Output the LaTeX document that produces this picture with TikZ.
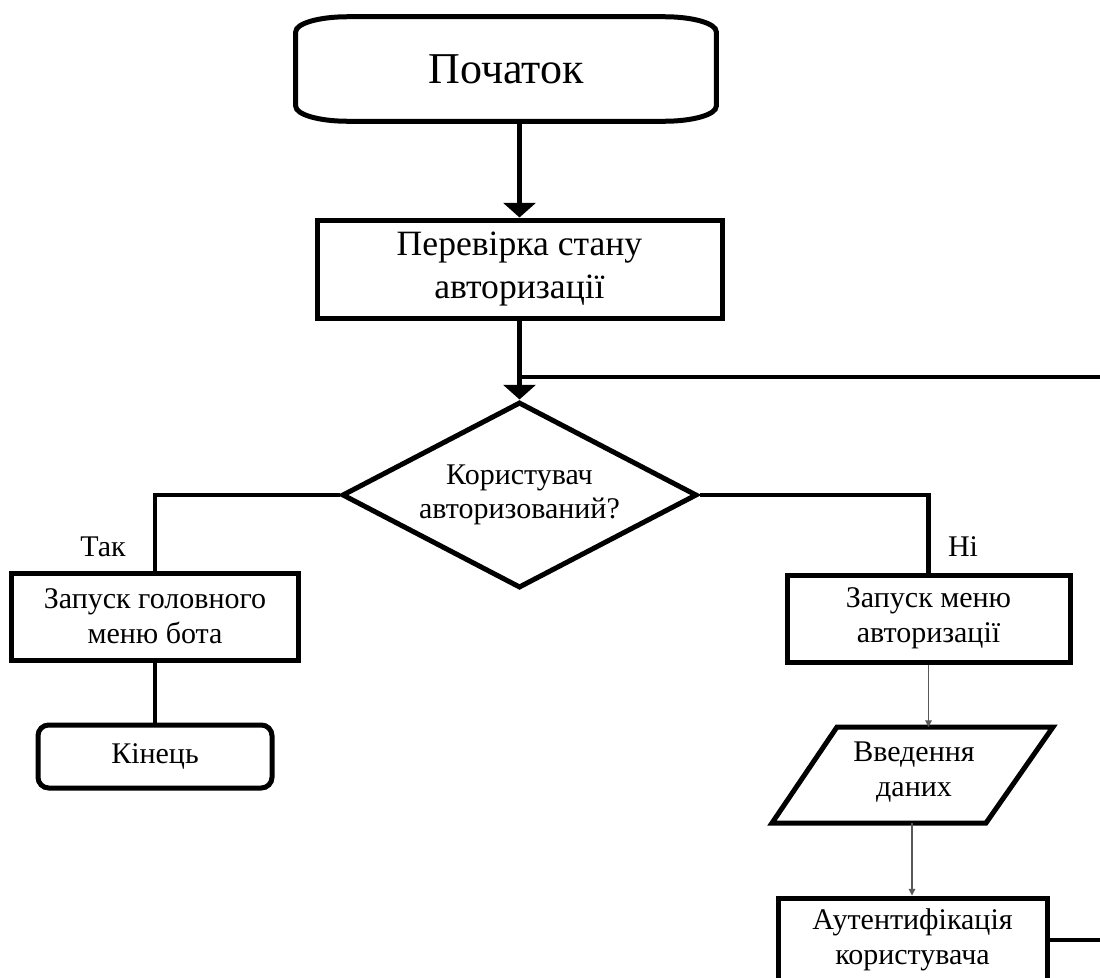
\documentclass[tikz,border=0pt]{standalone}
\usepackage{fontspec}
\setmainfont{Liberation Serif}
\usetikzlibrary{arrows.meta,shapes.geometric,calc}
\tikzset{
  boxnode/.style={draw, line width=3.75pt, inner sep=0pt, align=center, font=\fontsize{22.5pt}{26pt}\selectfont},
  flow/.style={line width=3.5pt},
  bigarrow/.style={flow, -{Triangle[width=24pt,length=11pt]}},
  thinarrow/.style={draw=black!65, line width=0.8pt, -{Triangle[width=5pt,length=5pt]}},
  lbl/.style={inner sep=0pt, font=\fontsize{22.5pt}{26pt}\selectfont}
}
\begin{document}
\begin{tikzpicture}[x=0.75pt,y=-0.75pt]
\useasboundingbox (0,0) rectangle (1100,978);
\clip (0,0) rectangle (1100,978);
\fill[white] (0,0) rectangle (1100,978);

% start terminal
\node[inner sep=0pt, minimum width=420*0.75pt, minimum height=104*0.75pt, font=\fontsize{33pt}{38pt}\selectfont] (start) at (506,69) {Початок};
\draw[line width=3.75pt]
  ($(start.north west)+(52,0)$) -- ($(start.north east)+(-52,0)$)
  arc[start angle=270, end angle=360, x radius=52, y radius=15]
  -- ($(start.south east)+(0,-15)$)
  arc[start angle=0, end angle=90, x radius=52, y radius=15]
  -- ($(start.south west)+(52,0)$)
  arc[start angle=90, end angle=180, x radius=52, y radius=15]
  -- ($(start.north west)+(0,15)$)
  arc[start angle=180, end angle=270, x radius=52, y radius=15] -- cycle;

\node[boxnode, minimum width=405*0.75pt, minimum height=98*0.75pt, font=\fontsize{26.7pt}{32pt}\selectfont] (check) at (519.5,269) {Перевірка стану\\авторизації};

\node[boxnode, shape=diamond, aspect=1.9, minimum width=355*0.75pt, minimum height=186*0.75pt] (dec) at (519.5,495) {Користувач\\авторизований?};

\node[boxnode, minimum width=287*0.75pt, minimum height=87*0.75pt] (yes) at (155,616.5) {Запуск головного\\меню бота};
\node[boxnode, rounded corners=8pt, minimum width=234*0.75pt, minimum height=63*0.75pt] (end) at (155,756.5) {Кінець};

\node[boxnode, minimum width=283*0.75pt, minimum height=87*0.75pt] (menu) at (928.5,618.5) {Запуск меню\\авторизації};

\node[lbl, align=center] (inp) at (914,772) {Введення\\даних};
\coordinate (inpC) at (912,775);
\draw[line width=3.75pt] ($(inpC)+(-75,-48)$) -- ($(inpC)+(141,-48)$) -- ($(inpC)+(74,48)$) -- ($(inpC)+(-140,48)$) -- cycle;
\coordinate (inpN) at ($(inpC)+(0,-48)$);
\coordinate (inpS) at ($(inpC)+(0,48)$);

\node[boxnode, minimum width=269*0.75pt, minimum height=84*0.75pt] (auth) at (912.5,940) {Аутентифікація\\користувача};

\node[lbl] (tak) at (103,547) {Так};
\node[lbl] (ni) at (963,547) {Ні};

\coordinate (jr) at (1110,377);

% connectors
\draw[bigarrow] (start.south -| check.north) -- (check.north);
\draw[bigarrow] (check.south) -- (dec.north);
\draw[flow] (check.south |- jr) -- (jr);
\draw[flow] (dec.west) -| (yes.north);
\draw[flow] (yes.south) -- (end.north);
\draw[flow] (dec.east) -| (menu.north);
\draw[thinarrow] (menu.south) -- (menu.south |- inpN);
\draw[thinarrow] (inpS) -- (inpS |- auth.north);
\draw[flow] (auth.east) -- (auth.east -| jr);
\end{tikzpicture}
\end{document}
